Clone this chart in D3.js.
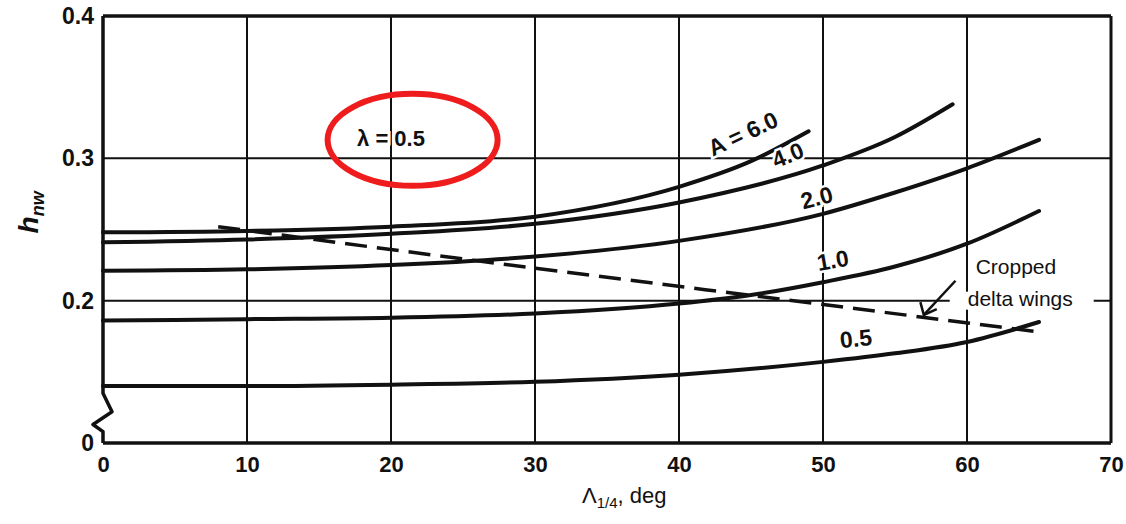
<!DOCTYPE html>
<html>
<head>
<meta charset="utf-8">
<script src="https://cdn.jsdelivr.net/npm/d3@7"></script>
<style>
  html, body { margin: 0; padding: 0; background: #fff; }
  svg { display: block; }
  text { font-family: "Liberation Sans", Arial, sans-serif; fill: #111; }
</style>
</head>
<body>
<svg id="chart" width="1126" height="524"></svg>
<script>
// sweep angle (deg) and h_nw values, lambda = 0.5
const xA6 = [0, 10, 20, 30, 40, 45, 49];
const yA6 = [0.248, 0.249, 0.252, 0.259, 0.280, 0.298, 0.319];
const xA4 = [0, 10, 20, 30, 40, 50, 55, 59];
const yA4 = [0.241, 0.243, 0.247, 0.254, 0.269, 0.295, 0.315, 0.338];
const xA2 = [0, 10, 20, 30, 40, 50, 55, 60, 65];
const yA2 = [0.221, 0.222, 0.225, 0.231, 0.242, 0.261, 0.276, 0.293, 0.313];
const xA1 = [0, 10, 20, 30, 40, 45, 50, 55, 60, 65];
const yA1 = [0.186, 0.187, 0.188, 0.191, 0.198, 0.204, 0.213, 0.224, 0.240, 0.263];
const xA05 = [0, 10, 20, 30, 40, 50, 55, 60, 65];
const yA05 = [0.140, 0.140, 0.141, 0.143, 0.148, 0.157, 0.163, 0.171, 0.185];
// cropped delta wings (dashed)
const xDelta = [8, 26, 51, 65];
const yDelta = [0.252, 0.228, 0.196, 0.178];

const xTicks = [0, 10, 20, 30, 40, 50, 60, 70];
const yTicks = [0.1, 0.2, 0.3, 0.4];
const yTickLabels = ["0", "0.2", "0.3", "0.4"];

const svg = d3.select('#chart');
const W = 1126, H = 524;
const m = { left: 103, right: 15, top: 16, bottom: 81 };

const x = d3.scaleLinear().domain([0, 70]).range([m.left, W - m.right]);
// axis is broken: bottom edge is labelled 0 but sits at 0.1
const y = d3.scaleLinear().domain([0.1, 0.4]).range([H - m.bottom, m.top]);

const toPts = (xs, ys) => xs.map((v, i) => [v, ys[i]]);
const line = d3.line()
    .x(d => x(d[0]))
    .y(d => y(d[1]))
    .curve(d3.curveMonotoneX);

// grid
svg.append('g')
    .selectAll('line')
    .data(xTicks.slice(1, -1))
    .enter().append('line')
    .attr('x1', d => x(d)).attr('x2', d => x(d))
    .attr('y1', y(0.4)).attr('y2', y(0.1))
    .attr('stroke', '#111').attr('stroke-width', 2);

svg.append('g')
    .selectAll('line')
    .data([0.2, 0.3])
    .enter().append('line')
    .attr('x1', x(0)).attr('x2', x(70))
    .attr('y1', d => y(d)).attr('y2', d => y(d))
    .attr('stroke', '#111').attr('stroke-width', 2);

// frame (left side drawn separately for the break)
svg.append('line')
    .attr('x1', x(0)).attr('x2', x(70)).attr('y1', y(0.4)).attr('y2', y(0.4))
    .attr('stroke', '#111').attr('stroke-width', 3.5);
svg.append('line')
    .attr('x1', x(0)).attr('x2', x(70)).attr('y1', y(0.1)).attr('y2', y(0.1))
    .attr('stroke', '#111').attr('stroke-width', 3.5);
svg.append('line')
    .attr('x1', x(70)).attr('x2', x(70)).attr('y1', y(0.4)).attr('y2', y(0.1))
    .attr('stroke', '#111').attr('stroke-width', 3);

const x0 = x(0);
svg.append('path')
    .attr('d', `M${x0},${y(0.4)} L${x0},${y(0.135)} L${x0 + 9},${y(0.122)} L${x0 - 10},${y(0.113)} L${x0},${y(0.108)} L${x0},${y(0.1)}`)
    .attr('fill', 'none')
    .attr('stroke', '#111').attr('stroke-width', 3.5)
    .attr('stroke-linejoin', 'round');

// curves
const curves = [
    toPts(xA6, yA6), toPts(xA4, yA4), toPts(xA2, yA2),
    toPts(xA1, yA1), toPts(xA05, yA05)
];
svg.append('g')
    .selectAll('path')
    .data(curves)
    .enter().append('path')
    .attr('d', line)
    .attr('fill', 'none')
    .attr('stroke', '#111')
    .attr('stroke-width', 4)
    .attr('stroke-linecap', 'round');

svg.append('path')
    .datum(toPts(xDelta, yDelta))
    .attr('d', line)
    .attr('fill', 'none')
    .attr('stroke', '#111')
    .attr('stroke-width', 3.5)
    .attr('stroke-dasharray', '22 10');

// curve labels
const labels = [
    { t: 'A = 6.0', x: 44.5, y: 0.316, r: -25 },
    { t: '4.0', x: 47.6, y: 0.301, r: -22 },
    { t: '2.0', x: 49.6, y: 0.271, r: -15 },
    { t: '1.0', x: 50.7, y: 0.227, r: -10 },
    { t: '0.5', x: 52.3, y: 0.172, r: -6 }
];
svg.append('g')
    .selectAll('text')
    .data(labels)
    .enter().append('text')
    .attr('transform', d => `translate(${x(d.x)},${y(d.y)}) rotate(${d.r})`)
    .attr('text-anchor', 'middle')
    .attr('dominant-baseline', 'middle')
    .attr('font-size', 23)
    .attr('font-weight', 'bold')
    .attr('stroke', '#fff').attr('stroke-width', 5)
    .attr('paint-order', 'stroke')
    .text(d => d.t);

// cropped delta wings note
svg.append('rect')
    .attr('x', x(58.8)).attr('y', y(0.2) - 9)
    .attr('width', x(68.8) - x(58.8)).attr('height', 18)
    .attr('fill', '#fff');
svg.append('text')
    .attr('x', x(63.4)).attr('y', y(0.219))
    .attr('text-anchor', 'middle')
    .attr('font-size', 21)
    .text('Cropped');
svg.append('text')
    .attr('x', x(63.7)).attr('y', y(0.2))
    .attr('text-anchor', 'middle')
    .attr('dominant-baseline', 'middle')
    .attr('font-size', 21)
    .text('delta wings');
svg.append('line')
    .attr('x1', x(59.2)).attr('y1', y(0.214))
    .attr('x2', x(57.0)).attr('y2', y(0.190))
    .attr('stroke', '#111').attr('stroke-width', 2.5);
svg.append('path')
    .attr('d', d3.line()([
        [x(56.9) - 2, y(0.199)],
        [x(57.0), y(0.190)],
        [x(57.9), y(0.194)]
    ]))
    .attr('fill', 'none')
    .attr('stroke', '#111').attr('stroke-width', 2.5);

// lambda note + red ellipse
svg.append('text')
    .attr('x', x(20.0)).attr('y', y(0.313))
    .attr('text-anchor', 'middle')
    .attr('dominant-baseline', 'middle')
    .attr('font-size', 22)
    .attr('font-weight', 'bold')
    .attr('stroke', '#fff').attr('stroke-width', 6)
    .attr('paint-order', 'stroke')
    .text('λ = 0.5');
svg.append('ellipse')
    .attr('cx', x(21.5)).attr('cy', y(0.313))
    .attr('rx', 85).attr('ry', 46)
    .attr('fill', 'none')
    .attr('stroke', '#ee1c1c')
    .attr('stroke-width', 6);

// axes
const xAxis = svg.append('g')
    .attr('transform', `translate(0,${y(0.1)})`)
    .call(d3.axisBottom(x).tickValues(xTicks).tickSize(0).tickPadding(13).tickFormat(d3.format('d')));
xAxis.select('.domain').remove();
xAxis.selectAll('text')
    .attr('font-size', 22)
    .attr('font-weight', 'bold')
    .attr('fill', '#111');

const yAxis = svg.append('g')
    .attr('transform', `translate(${x(0)},0)`)
    .call(d3.axisLeft(y).tickValues(yTicks).tickSize(0).tickPadding(9)
        .tickFormat((d, i) => yTickLabels[i]));
yAxis.select('.domain').remove();
yAxis.selectAll('text')
    .attr('font-size', 23)
    .attr('font-weight', 'bold')
    .attr('fill', '#111');

// axis titles
const xt = svg.append('text')
    .attr('x', x(36.2)).attr('y', 503)
    .attr('text-anchor', 'middle')
    .attr('font-size', 22);
xt.append('tspan').text('Λ');
xt.append('tspan').attr('font-size', 15).attr('dy', 5).text('1/4');
xt.append('tspan').attr('dy', -5).text(', deg');

const yt = svg.append('text')
    .attr('transform', `translate(38,${y(0.262)}) rotate(-90)`)
    .attr('text-anchor', 'middle')
    .attr('font-family', '"Liberation Serif", "DejaVu Serif", serif')
    .attr('font-style', 'italic')
    .attr('font-weight', 'bold')
    .attr('font-size', 28);
yt.append('tspan').text('h');
yt.append('tspan').attr('font-size', 18).attr('dy', 6).text('nw');
</script>
</body>
</html>
